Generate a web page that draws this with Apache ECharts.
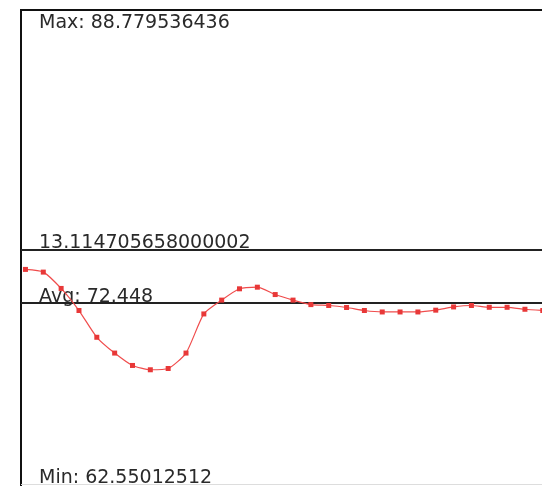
<!DOCTYPE html>
<html>
<head>
<meta charset="utf-8">
<script src="https://cdn.jsdelivr.net/npm/echarts@6/dist/echarts.min.js"></script>
<style>
html,body{margin:0;padding:0;background:#fff;}
#c{width:542px;height:486px;}
</style>
</head>
<body>
<div id="c"></div>
<script>
// sample index (x) and values (y)
var categories = [0,1,2,3,4,5,6,7,8,9,10,11,12,13,14,15,16,17,18,19,20,21,22,23,24,25,26,27,28,29];
var values = [74.33,74.18,73.27,72.04,70.55,69.67,68.98,68.74,68.81,69.67,71.85,72.62,73.25,73.34,72.93,72.62,72.37,72.32,72.21,72.04,71.96,71.96,71.96,72.06,72.24,72.32,72.22,72.22,72.11,72.04];
var maxValue = 88.779536436;
var minValue = 62.55012512;
var avgValue = 72.448;
var refLineValue = 75.41;
var refLineLabel = '13.114705658000002';

var seriesData = categories.map(function (c, i) { return [c, values[i]]; });

var chart = echarts.init(document.getElementById('c'), null, {renderer: 'canvas'});
var font = 'DejaVu Sans';
chart.setOption({
  animation: false,
  backgroundColor: '#fff',
  grid: {left: 21, top: 10, width: 718, height: 477, show: true, borderColor: '#111', borderWidth: 2,
         backgroundColor: 'transparent', containLabel: false, outerBoundsMode: 'none'},
  xAxis: {type: 'value', min: -0.25, max: 40, show: false},
  yAxis: {type: 'value', min: 62.21, max: 88.78, show: false},
  graphic: [
    {type: 'text', left: 39, top: 14, style: {text: 'Max: ' + maxValue, font: '19px "' + font + '"', fill: '#2a2a2a'}},
    {type: 'text', left: 39, top: 469, style: {text: 'Min: ' + minValue, font: '19px "' + font + '"', fill: '#2a2a2a'}},
    {type: 'rect', shape: {x: 21, y: 484, width: 521, height: 1}, style: {fill: '#ddd'}}
  ],
  series: [{
    type: 'line',
    data: seriesData,
    symbol: 'rect',
    symbolSize: 5,
    showAllSymbol: true,
    clip: false,
    smooth: 0.2,
    itemStyle: {color: '#e83838'},
    lineStyle: {color: '#f04c4c', width: 1.2},
    z: 3,
    markLine: {
      silent: true,
      symbol: ['none', 'none'],
      z: 2,
      lineStyle: {color: '#222', width: 2, type: 'solid'},
      label: {position: 'insideStartTop', distance: [18, -3], color: '#2a2a2a', fontSize: 19, fontFamily: font},
      data: [
        {yAxis: refLineValue, label: {formatter: refLineLabel}},
        {yAxis: avgValue, label: {formatter: 'Avg: ' + avgValue}}
      ]
    }
  }]
});
</script>
</body>
</html>
